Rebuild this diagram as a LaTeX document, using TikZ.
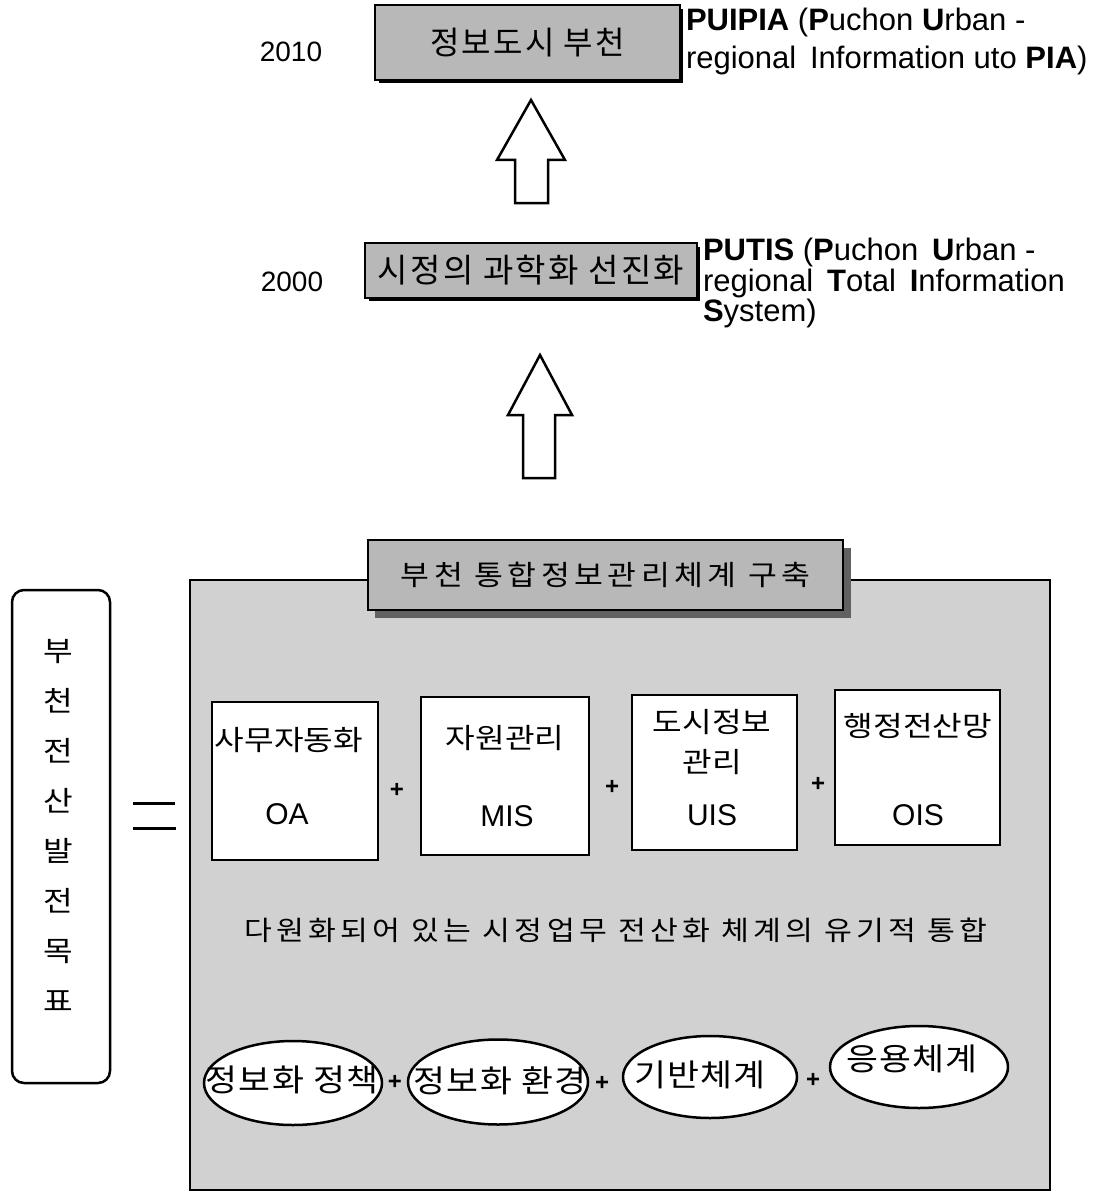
\documentclass[tikz,border=0pt]{standalone}
\usepackage{fontspec}
\setmainfont{Liberation Sans}
\newfontfamily\kr{Noto Sans CJK KR}
\newfontfamily\krs[LetterSpace=7]{Noto Sans CJK KR}
\newfontfamily\krx[FakeStretch=1.15]{Noto Sans CJK KR}
\newfontfamily\krxm[FakeStretch=1.12,LetterSpace=4]{Noto Sans CJK KR}
\newfontfamily\krxw[FakeStretch=1.12,LetterSpace=16]{Noto Sans CJK KR}
\newcommand\fsz[1]{\fontsize{#1}{#1}\selectfont}
\usetikzlibrary{shapes.geometric}
\definecolor{boxgray}{gray}{0.72}
\definecolor{biggray}{gray}{0.82}
\definecolor{shadowgray}{gray}{0.38}
\begin{document}
\begin{tikzpicture}[x=1pt,y=-1pt,
  every node/.style={inner sep=0pt, outer sep=0pt},
  graybox/.style={draw, line width=2.5pt, fill=boxgray},
  whitebox/.style={draw, line width=2.5pt, fill=white},
  oval/.style={draw, ellipse, line width=2.5pt, fill=white},
  blockarrow/.style={draw, line width=2.5pt, fill=white, line join=miter},
  year/.style={font=\fsz{28}},
  eng/.style={font=\fsz{31}, anchor=base west},
  boxtext/.style={font=\krx\fsz{28}},
  ovaltext/.style={font=\krxm\fsz{31}},
  abbr/.style={font=\fsz{30}},
  plus/.style={font=\bfseries\fsz{24}}
]
\useasboundingbox (0,0) rectangle (1093,1193);

% ---- top: 2010
\node[year] (y2010) at (291,52) {2010};
\fill[black] (379,9) rectangle (683,83);
\node[graybox, minimum width=305pt, minimum height=75pt] (vision) at (527.5,42.5) {\krs\fsz{32}정보도시 부천};
\node[eng] (pa1) at (686,31) {\textbf{PUIPIA} (\textbf{P}uchon \textbf{U}rban -};
\node[eng] (pa2) at (686,69) {regional\, Information uto \textbf{PIA})};

% arrow 1
\draw[blockarrow] (531,100) -- (565,160) -- (548,160) -- (548,203) -- (515,203) -- (515,160) -- (497,160) -- cycle;

% ---- 2000
\node[year] (y2000) at (292,282) {2000};
\fill[black] (369,247) rectangle (700,301);
\node[graybox, minimum width=332pt, minimum height=55pt] (sci) at (531,270.5) {\krs\fsz{33}시정의 과학화 선진화};
\node[eng] (pb1) at (703,260) {\textbf{PUTIS} (\textbf{P}uchon\, \textbf{U}rban -};
\node[eng] (pb2) at (703,291) {regional\, \textbf{T}otal\, \textbf{I}nformation};
\node[eng] (pb3) at (703,321) {\textbf{S}ystem)};

% arrow 2
\draw[blockarrow] (540,355) -- (572,415) -- (555,415) -- (555,478) -- (523,478) -- (523,415) -- (508,415) -- cycle;

% ---- bottom block
\node[draw, line width=2.5pt, fill=biggray, minimum width=860pt, minimum height=610pt] (plan) at (620,885) {};
\fill[shadowgray] (375,548) rectangle (851,618);
\node[graybox, minimum width=475pt, minimum height=70pt] (title) at (605.5,575) {\krxw\fsz{28}부천 통합정보관리체계 구축};

% left goal box
\node[draw, line width=2.5pt, fill=white, rounded corners=12pt, minimum width=98pt, minimum height=493pt] (goalbox) at (61,836.5) {};
\node[font=\krx\fontsize{28}{50}\selectfont, align=center] (goaltext) at (58,825) {부\\천\\전\\산\\발\\전\\목\\표};

% equals
\draw[line width=3pt] (133,803) -- (175,803);
\draw[line width=3pt] (133,828) -- (176,828);

% four boxes
\node[whitebox, minimum width=166pt, minimum height=158pt] (oa) at (295,781) {};
\node[whitebox, minimum width=168pt, minimum height=158pt] (mis) at (505,776) {};
\node[whitebox, minimum width=165pt, minimum height=155pt] (uis) at (714.5,772.5) {};
\node[whitebox, minimum width=165pt, minimum height=155pt] (ois) at (917.5,767.5) {};

\node[boxtext] (oak) at (289,740) {사무자동화};
\node[abbr] (oae) at (287,814) {OA};
\node[boxtext] (misk) at (505,738) {자원관리};
\node[abbr] (mise) at (507,816) {MIS};
\node[boxtext] (uisk1) at (712,722) {도시정보};
\node[boxtext] (uisk2) at (712,762) {관리};
\node[abbr] (uise) at (712,815) {UIS};
\node[boxtext] (oisk) at (918,726) {행정전산망};
\node[abbr] (oise) at (918,815) {OIS};

\node[plus] (p1) at (397,790) {+};
\node[plus] (p2) at (612,787) {+};
\node[plus] (p3) at (818,784) {+};

% integration text
\node[font=\krxw\fsz{27}] (integ) at (616,930) {다원화되어 있는 시정업무 전산화 체계의 유기적 통합};

% ellipses
\node[oval, minimum width=178pt, minimum height=84pt] (e1) at (293,1083) {};
\node[oval, minimum width=180pt, minimum height=85pt] (e2) at (498,1082) {};
\node[oval, minimum width=174pt, minimum height=82pt] (e3) at (710,1077) {};
\node[oval, minimum width=178pt, minimum height=82pt] (e4) at (919,1067) {};
\node[ovaltext] (e1t) at (292,1080) {정보화 정책};
\node[ovaltext] (e2t) at (500,1081) {정보화 환경};
\node[ovaltext] (e3t) at (700,1075) {기반체계};
\node[ovaltext] (e4t) at (912,1059) {응용체계};

\node[plus] (q1) at (395,1082) {+};
\node[plus] (q2) at (602,1083) {+};
\node[plus] (q3) at (813,1080) {+};
\end{tikzpicture}
\end{document}
